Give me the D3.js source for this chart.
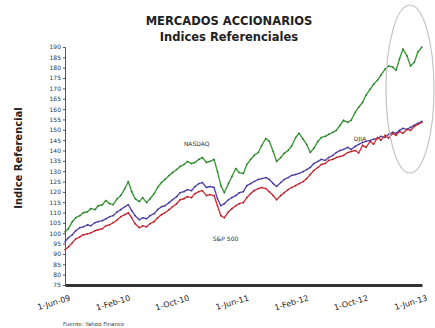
<!DOCTYPE html>
<html>
<head>
<meta charset="utf-8">
<script src="https://cdn.jsdelivr.net/npm/d3@7"></script>
<style>
  html, body { margin: 0; padding: 0; background: #fff; }
  svg { display: block; }
</style>
</head>
<body>
<svg id="chart" width="435" height="328"></svg>
<script>
// Semi-monthly observation dates
const dates = [
  "2009-06-01","2009-06-15","2009-07-01","2009-07-15","2009-08-01","2009-08-15","2009-09-01","2009-09-15",
  "2009-10-01","2009-10-15","2009-11-01","2009-11-15","2009-12-01","2009-12-15",
  "2010-01-01","2010-01-15","2010-02-01","2010-02-15","2010-03-01","2010-03-15","2010-04-01","2010-04-15",
  "2010-05-01","2010-05-15","2010-06-01","2010-06-15","2010-07-01","2010-07-15","2010-08-01","2010-08-15",
  "2010-09-01","2010-09-15","2010-10-01","2010-10-15","2010-11-01","2010-11-15","2010-12-01","2010-12-15",
  "2011-01-01","2011-01-15","2011-02-01","2011-02-15","2011-03-01","2011-03-15","2011-04-01","2011-04-15",
  "2011-05-01","2011-05-15","2011-06-01","2011-06-15","2011-07-01","2011-07-15","2011-08-01","2011-08-15",
  "2011-09-01","2011-09-15","2011-10-01","2011-10-15","2011-11-01","2011-11-15","2011-12-01","2011-12-15",
  "2012-01-01","2012-01-15","2012-02-01","2012-02-15","2012-03-01","2012-03-15","2012-04-01","2012-04-15",
  "2012-05-01","2012-05-15","2012-06-01","2012-06-15","2012-07-01","2012-07-15","2012-08-01","2012-08-15",
  "2012-09-01","2012-09-15","2012-10-01","2012-10-15","2012-11-01","2012-11-15","2012-12-01","2012-12-15",
  "2013-01-01","2013-01-15","2013-02-01","2013-02-15","2013-03-01","2013-03-15","2013-04-01","2013-04-15",
  "2013-05-01","2013-05-15","2013-06-01"
];

// Index levels per market
const nasdaq = [
  100.7,102.2,105.6,107.5,108.5,109.9,110.4,111.9,111.4,113.3,113.8,115.8,114.3,113.8,
  116.7,118.2,121.6,125.0,120.1,116.7,115.3,117.2,114.8,116.7,119.2,122.1,124.5,126.0,
  127.9,129.3,130.8,132.3,133.2,134.7,133.7,134.2,135.7,136.6,134.2,134.7,135.7,129.8,
  123.0,119.6,124.0,127.4,131.3,129.3,128.9,133.2,135.7,137.6,139.0,142.4,145.8,144.4,
  139.5,134.7,136.6,138.6,140.0,142.0,146.3,148.3,145.4,142.9,139.0,141.0,144.4,146.3,
  146.8,147.8,148.8,149.7,152.2,154.6,153.6,154.6,158.5,160.9,163.3,166.7,169.6,172.0,
  174.0,176.4,179.3,180.8,180.3,178.8,184.2,189.0,185.6,180.8,182.7,187.6,190.0
];
const djia = [
  95.9,97.8,99.3,101.2,102.7,103.1,104.1,103.6,105.1,105.6,106.1,107.0,108.0,108.5,
  110.4,111.4,112.8,113.8,110.9,108.5,106.5,107.5,107.0,108.5,109.5,111.4,112.8,113.3,
  114.8,116.2,117.7,119.6,120.1,121.1,120.6,122.6,124.0,124.5,122.1,122.6,122.1,116.7,
  113.3,114.3,116.2,117.2,118.2,119.6,120.1,123.0,124.0,125.0,126.0,126.4,126.9,126.0,
  124.0,122.6,124.5,126.0,126.9,127.9,128.4,128.9,129.8,130.8,131.8,133.7,134.7,135.7,
  135.2,136.6,137.6,139.0,140.0,140.5,141.5,140.5,142.0,142.9,143.9,144.4,144.9,145.4,
  145.8,146.8,146.3,147.8,148.8,148.3,149.7,150.7,150.2,151.2,152.2,153.1,154.1
];
const sp500 = [
  92.0,93.4,95.4,97.3,98.3,99.3,99.7,100.2,101.2,101.7,102.2,103.6,104.1,105.1,
  106.5,108.0,109.0,109.9,107.5,104.6,102.7,103.6,103.1,104.6,105.6,107.5,109.0,109.9,
  111.4,112.8,114.3,116.2,116.7,117.7,117.2,119.2,120.1,120.6,118.2,118.7,118.2,113.3,
  108.5,107.5,110.4,111.9,113.3,114.3,114.8,117.2,119.2,120.6,121.6,122.1,121.6,120.1,
  118.2,116.2,118.2,119.6,121.1,122.1,123.0,124.0,125.0,126.4,128.4,130.3,131.8,133.2,
  133.7,135.2,135.7,136.6,137.1,137.6,139.0,139.5,140.0,138.8,142.5,141.5,144.4,143.0,
  146.3,145.0,147.3,146.0,148.3,147.3,149.2,148.3,150.2,149.7,151.7,152.6,153.6
];

const seriesNames = ["NASDAQ", "DJIA", "S&P 500"];
const seriesColors = ["#3a9c3a", "#5a4ab4", "#d2343e"];

const yTickValues = [75,80,85,90,95,100,105,110,115,120,125,130,135,140,145,150,155,160,165,170,175,180,185,190];
const xTickDates = ["2009-06-01","2010-02-01","2010-10-01","2011-06-01","2012-02-01","2012-10-01","2013-06-01"];
const xTickLabels = ["1-Jun-09","1-Feb-10","1-Oct-10","1-Jun-11","1-Feb-12","1-Oct-12","1-Jun-13"];

const parse = d3.utcParse("%Y-%m-%d");
const svg = d3.select("#chart");
const plotLeft = 65, plotRight = 422, plotTop = 47, plotBottom = 285;

const x = d3.scaleUtc()
  .domain([parse(dates[0]), parse(dates[dates.length - 1])])
  .range([plotLeft, plotRight]);
const y = d3.scaleLinear().domain([75, 190]).range([plotBottom, plotTop]);

// Titles
svg.append("text")
  .attr("x", 229).attr("y", 25)
  .attr("text-anchor", "middle")
  .attr("font-family", "DejaVu Sans, sans-serif")
  .attr("font-weight", "bold").attr("font-size", 11.5)
  .attr("fill", "#222")
  .text("MERCADOS ACCIONARIOS");
svg.append("text")
  .attr("x", 229).attr("y", 41)
  .attr("text-anchor", "middle")
  .attr("font-family", "DejaVu Sans, sans-serif")
  .attr("font-weight", "bold").attr("font-size", 11.5)
  .attr("fill", "#222")
  .text("Indices Referenciales");

// Y axis title
svg.append("text")
  .attr("transform", "translate(22,158) rotate(-90)")
  .attr("text-anchor", "middle")
  .attr("font-family", "DejaVu Sans, sans-serif")
  .attr("font-weight", "bold").attr("font-size", 10)
  .attr("fill", "#222")
  .text("Indice Referencial");

// Y axis
const yAxis = svg.append("g")
  .attr("transform", `translate(${plotLeft},0)`)
  .call(d3.axisLeft(y).tickValues(yTickValues).tickSize(2).tickPadding(2));
yAxis.select(".domain").attr("stroke", "#555").attr("stroke-width", 1);
yAxis.selectAll(".tick line").attr("stroke", "#555");
yAxis.selectAll(".tick text")
  .attr("font-family", "DejaVu Sans, sans-serif")
  .attr("font-size", 6).attr("fill", "#333");

// X axis
const xAxis = svg.append("g")
  .attr("transform", `translate(0,${plotBottom})`)
  .call(d3.axisBottom(x)
    .tickValues(xTickDates.map(parse))
    .tickFormat((d, i) => xTickLabels[i])
    .tickSize(0).tickPadding(6));
xAxis.select(".domain").attr("stroke", "#333").attr("stroke-width", 3);
xAxis.selectAll(".tick text")
  .attr("font-family", "DejaVu Sans, sans-serif")
  .attr("font-size", 8).attr("fill", "#222")
  .attr("text-anchor", "end")
  .attr("transform", "translate(2,4) rotate(-17)");

// Lines
const allSeries = [nasdaq, djia, sp500];
const line = d3.line()
  .x((d, i) => x(parse(dates[i])))
  .y(d => y(d));

allSeries.forEach((vals, k) => {
  svg.append("path")
    .datum(vals)
    .attr("fill", "none")
    .attr("stroke", seriesColors[k])
    .attr("stroke-width", 1.4)
    .attr("stroke-linejoin", "round")
    .attr("d", line);
  svg.append("g").selectAll("circle")
    .data(vals)
    .join("circle")
    .attr("cx", (d, i) => x(parse(dates[i])))
    .attr("cy", d => y(d))
    .attr("r", 0.8)
    .attr("fill", d3.color(seriesColors[k]).darker(1));
});

// Series labels
const labelPos = [
  { name: seriesNames[0], date: "2010-11-22", value: 142.2 },
  { name: seriesNames[1], date: "2012-09-20", value: 144.6 },
  { name: seriesNames[2], date: "2011-03-20", value: 96.3 }
];
svg.append("g").selectAll("text")
  .data(labelPos)
  .join("text")
  .attr("x", d => x(parse(d.date)))
  .attr("y", d => y(d.value))
  .attr("text-anchor", "middle")
  .attr("font-family", "DejaVu Sans, sans-serif")
  .attr("font-size", 6).attr("fill", "#333")
  .text(d => d.name);

// Highlight around the latest readings
svg.append("ellipse")
  .attr("cx", 410).attr("cy", 89)
  .attr("rx", 24).attr("ry", 84)
  .attr("fill", "none")
  .attr("stroke", "#c4c4c4")
  .attr("stroke-width", 1.2);

// Source note
svg.append("text")
  .attr("x", 63).attr("y", 326)
  .attr("font-family", "DejaVu Sans, sans-serif")
  .attr("font-size", 5.5).attr("fill", "#333")
  .text("Fuente: Yahoo Finance");
</script>
</body>
</html>
